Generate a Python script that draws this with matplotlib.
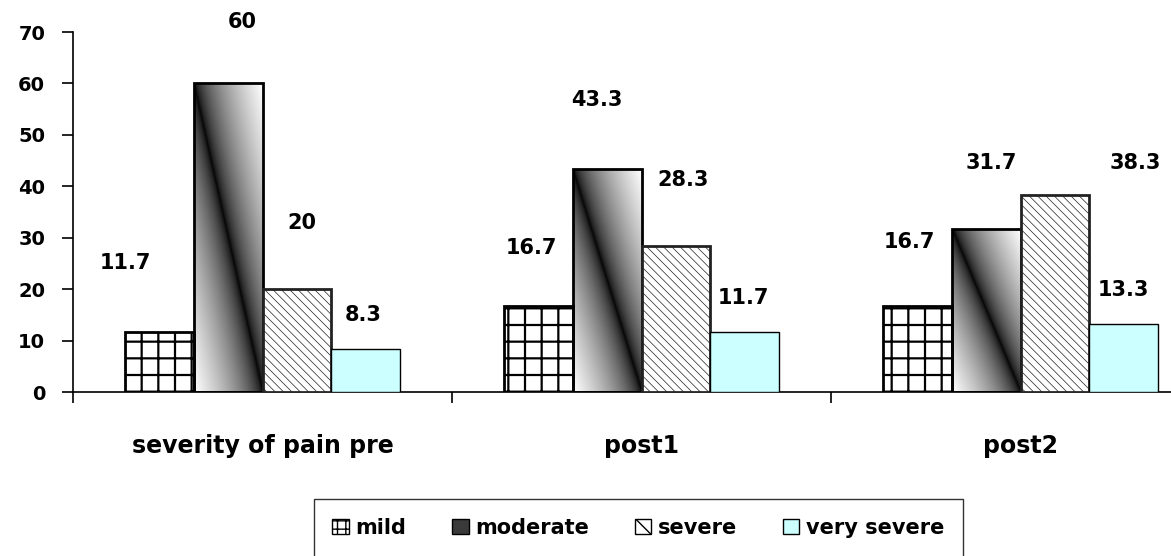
import numpy as np
import matplotlib
matplotlib.use("Agg")
import matplotlib.pyplot as plt
from matplotlib.patches import Patch

categories = ["severity of pain pre", "post1", "post2"]
series = ["mild", "moderate", "severe", "very severe"]
mild = [11.7, 16.7, 16.7]
moderate = [60, 43.3, 31.7]
severe = [20, 28.3, 38.3]
very_severe = [8.3, 11.7, 13.3]
yticks = [0, 10, 20, 30, 40, 50, 60, 70]

# label offsets from bar top centre, in pixels (Excel placed them unevenly)
label_offsets = [
    [(-34, 69), (14, 61), (5, 66), (-2, 34)],
    [(-7, 58), (-10, 69), (7, 66), (-1, 34)],
    [(-8, 64), (5, 66), (80, 32), (0, 34)],
]

plt.rcParams["font.family"] = "DejaVu Sans"
plt.rcParams["font.weight"] = "bold"

fig = plt.figure(figsize=(11.71, 5.56), dpi=100)
ax = fig.add_axes([73 / 1171, 164 / 556, 1137 / 1171, 360 / 556])

x = np.arange(len(categories)) + 0.5
w = 0.1815
values = [mild, moderate, severe, very_severe]
styles = [
    dict(facecolor="white", edgecolor="black", hatch="+", linewidth=2.0, hlw=1.6),
    dict(facecolor="none", edgecolor="black", hatch=None, linewidth=2.0, hlw=1.0),
    dict(facecolor="white", edgecolor="#222222", hatch="\\\\\\\\", linewidth=2.0, hlw=0.5),
    dict(facecolor="#CCFFFF", edgecolor="black", hatch=None, linewidth=1.0, hlw=1.0),
]

u = np.linspace(0, 1, 300)
uu, vv = np.meshgrid(u, u)
grad = np.abs(uu - vv) ** 0.6

for j, (vals, st) in enumerate(zip(values, styles)):
    pos = x + (j - 1.5) * w
    plt.rcParams["hatch.linewidth"] = st["hlw"]
    bars = ax.bar(pos, vals, width=w, facecolor=st["facecolor"],
                  edgecolor=st["edgecolor"], hatch=st["hatch"],
                  linewidth=st["linewidth"], zorder=3)
    if j == 1:
        for b in bars:
            x0, y0 = b.get_x(), b.get_y()
            im = ax.imshow(grad, cmap="gray", vmin=0, vmax=1, aspect="auto",
                           extent=[x0, x0 + b.get_width(), y0, y0 + b.get_height()],
                           origin="upper", zorder=2, interpolation="bilinear")
            im.set_clip_path(b)
    for i, b in enumerate(bars):
        dx, dy = label_offsets[i][j]
        ax.annotate(f"{vals[i]:g}", (b.get_x() + b.get_width() / 2, b.get_height()),
                    xytext=(dx, dy), textcoords="offset pixels",
                    ha="center", va="center", fontsize=15, fontweight="bold")

ax.set_xlim(0, 3)
ax.set_ylim(0, 70)
ax.set_yticks(yticks)
ax.tick_params(axis="y", length=8, width=1.2, labelsize=14, pad=12)
ax.set_xticks([0, 1, 2, 3])
ax.set_xticklabels([])
ax.set_xticks(x, minor=True)
ax.set_xticklabels(categories, minor=True)
ax.tick_params(axis="x", which="major", length=8, width=1.2, direction="out")
ax.tick_params(axis="x", which="minor", length=0, labelsize=17, pad=30)
for lab in ax.get_yticklabels() + ax.get_xticklabels(minor=True):
    lab.set_fontweight("bold")
for s in ["top", "right"]:
    ax.spines[s].set_visible(False)
ax.spines["left"].set_linewidth(1.2)
ax.spines["bottom"].set_linewidth(1.2)

plt.rcParams["hatch.linewidth"] = 1.0
handles = [
    Patch(facecolor="white", edgecolor="black", hatch="++", label="mild"),
    Patch(facecolor="#3a3a3a", edgecolor="black", label="moderate"),
    Patch(facecolor="white", edgecolor="black", hatch="\\\\", label="severe"),
    Patch(facecolor="#CCFFFF", edgecolor="black", label="very severe"),
]
leg = fig.legend(handles=handles, loc="upper center", bbox_to_anchor=(0.545, 0.1025),
                 ncol=4, fontsize=15, frameon=True, fancybox=False,
                 handlelength=0.8, handleheight=0.8, handletextpad=0.3,
                 columnspacing=2.2, borderpad=0.9, borderaxespad=0)
leg.get_frame().set_edgecolor("black")
leg.get_frame().set_linewidth(1.0)
for t in leg.get_texts():
    t.set_fontweight("bold")

fig.savefig("out.png", dpi=100)
